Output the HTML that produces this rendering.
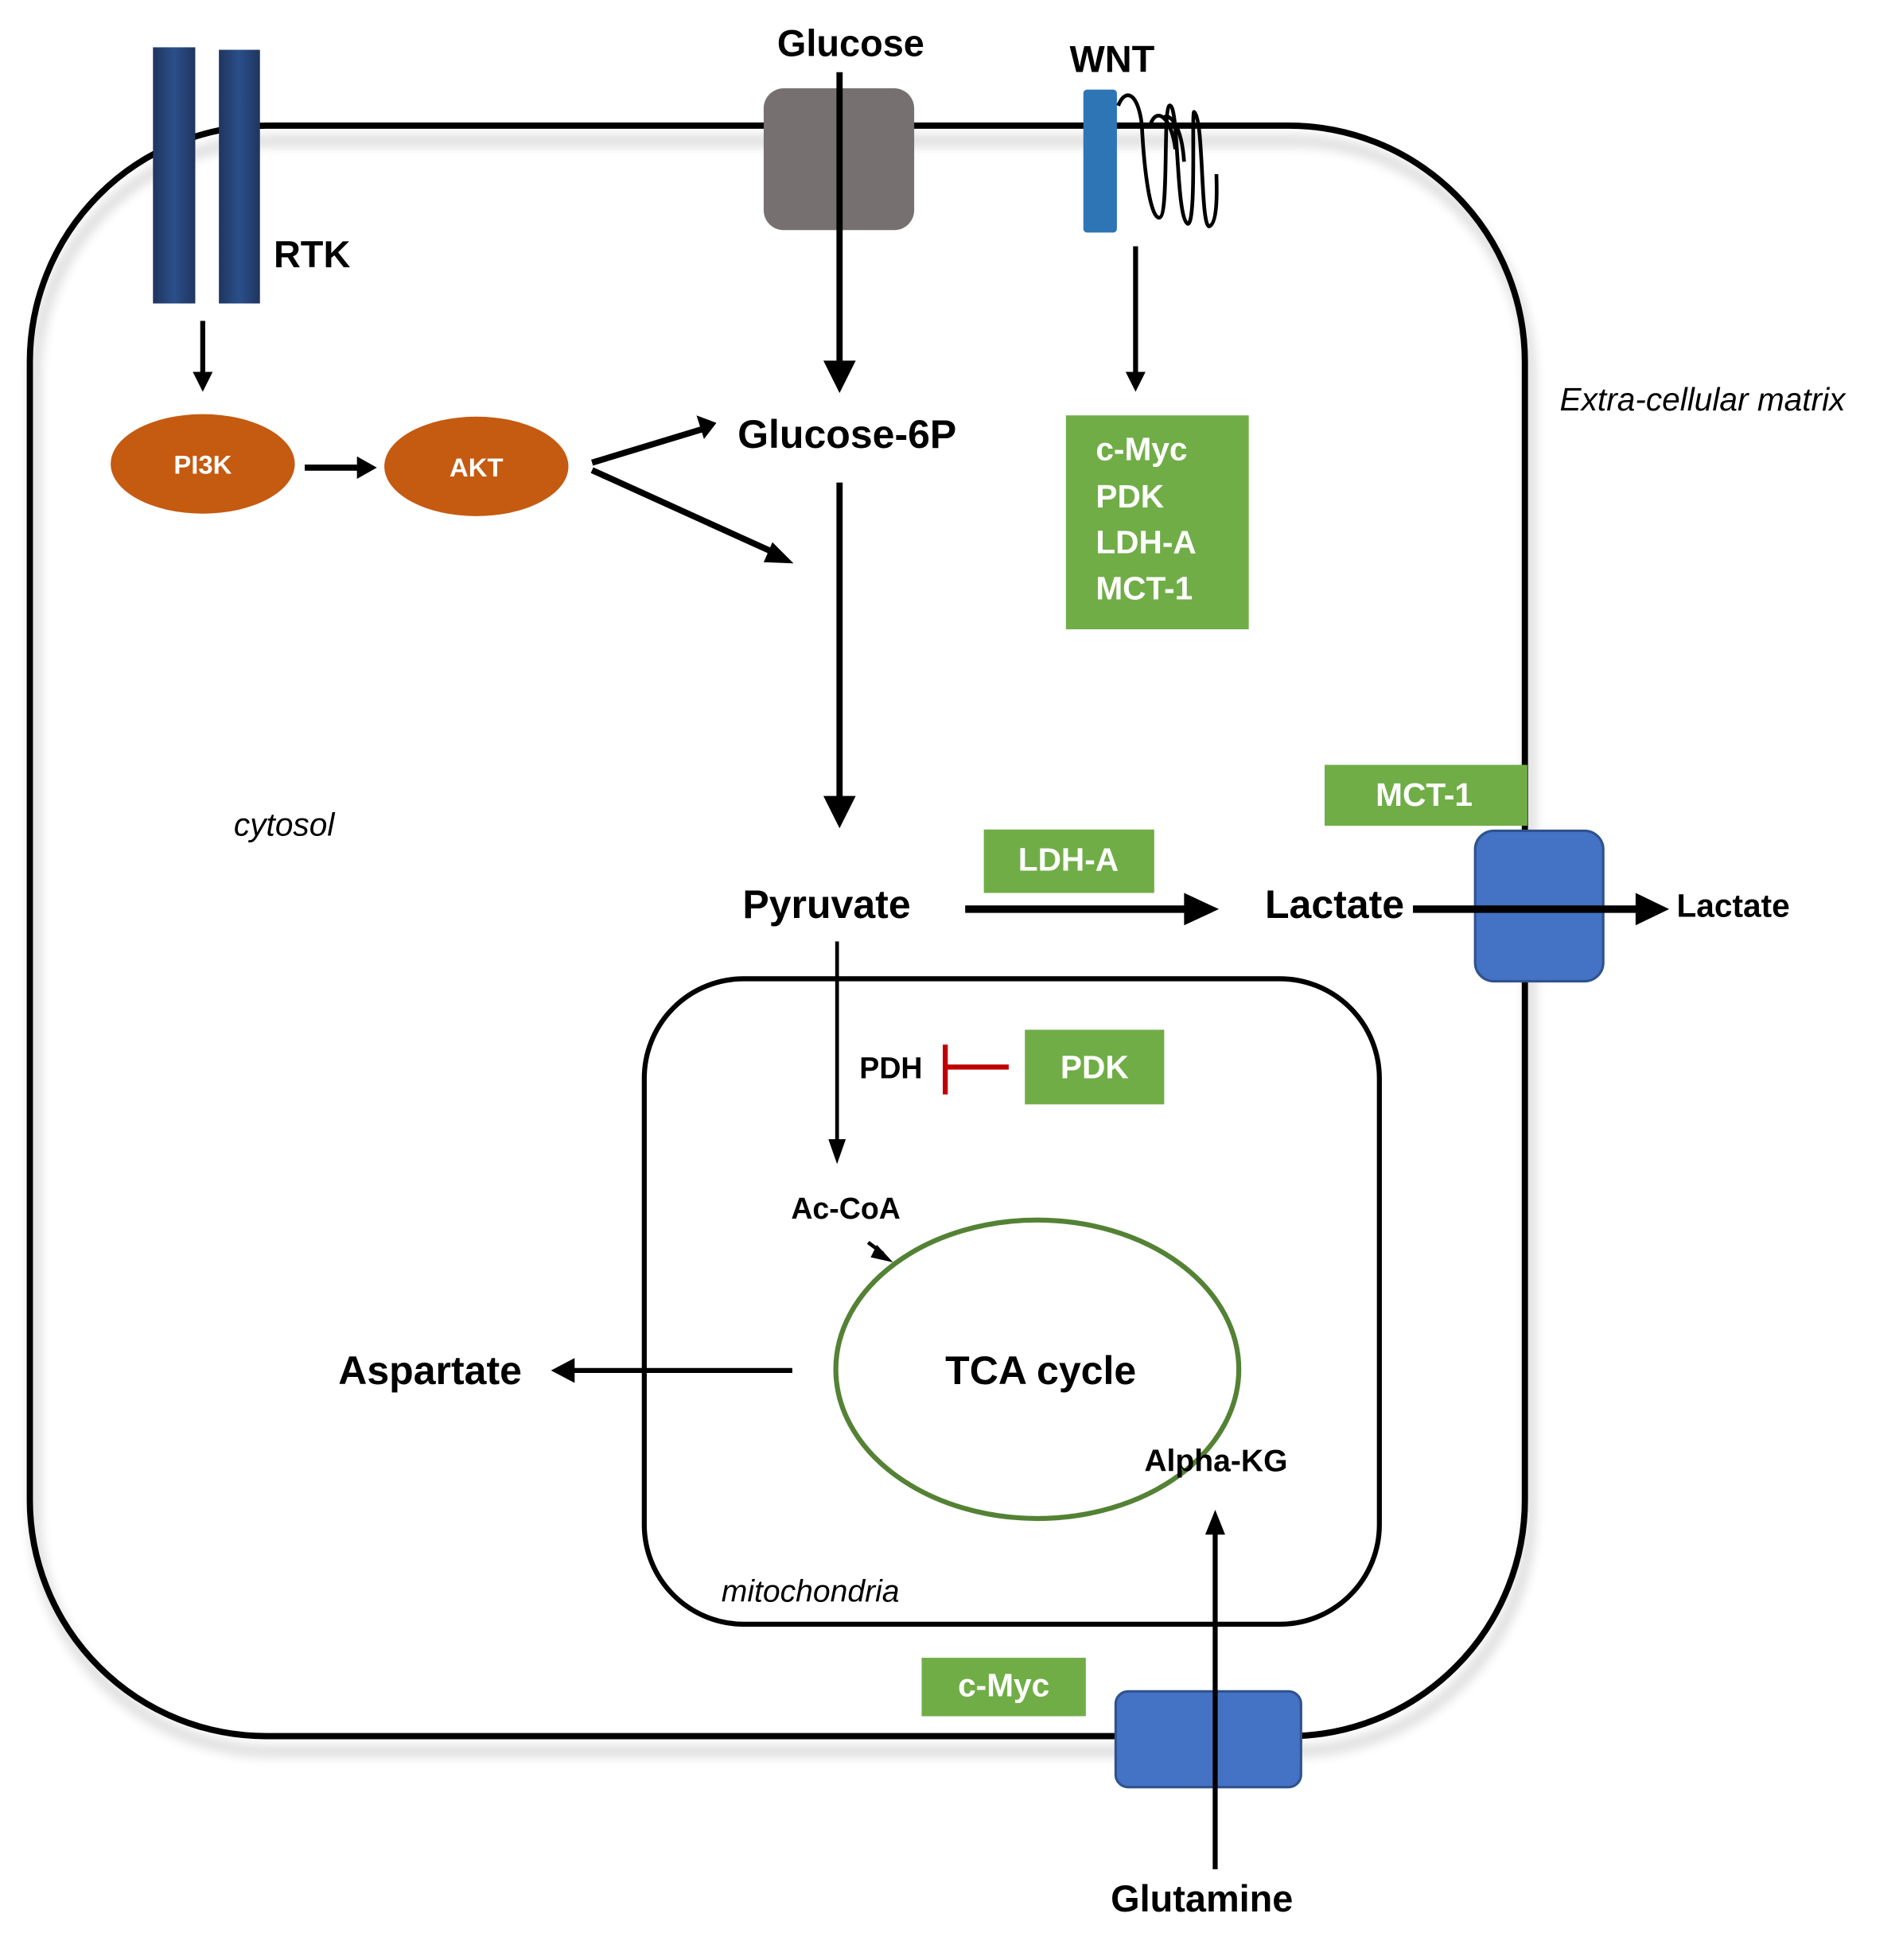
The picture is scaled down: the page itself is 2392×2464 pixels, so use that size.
<!DOCTYPE html>
<html><head><meta charset="utf-8"><style>
html,body{margin:0;padding:0;background:#fff}
svg{display:block}
text{font-family:"Liberation Sans",sans-serif}
.b{font-weight:bold}
.w{fill:#fff;font-weight:bold}
</style></head><body>
<svg width="2392" height="2464" viewBox="0 0 1530 1576" xmlns="http://www.w3.org/2000/svg">
<defs>
<filter id="sh" x="-5%" y="-5%" width="115%" height="115%">
<feGaussianBlur in="SourceAlpha" stdDeviation="5"/>
<feOffset dx="4" dy="12" result="o"/>
<feComponentTransfer><feFuncA type="linear" slope="0.25"/></feComponentTransfer>
<feMerge><feMergeNode/><feMergeNode in="SourceGraphic"/></feMerge>
</filter>
<linearGradient id="rg" x1="0" x2="1">
<stop offset="0" stop-color="#1f3560"/><stop offset="0.5" stop-color="#2b4f8a"/><stop offset="1" stop-color="#1f3560"/>
</linearGradient>
<marker id="ah" markerWidth="8" markerHeight="8" refX="7" refY="4" orient="auto" markerUnits="userSpaceOnUse" viewBox="0 0 8 8"><path d="M0,0 L8,4 L0,8z" fill="#000"/></marker>
</defs>
<rect x="24" y="101" width="1202" height="1295" rx="190" fill="none" stroke="#000" stroke-width="5" filter="url(#sh)"/>

<!-- RTK -->
<rect x="123" y="38" width="34" height="206" fill="url(#rg)"/>
<rect x="176" y="40" width="33" height="204" fill="url(#rg)"/>
<text x="220" y="215" class="b" font-size="30">RTK</text>

<!-- Glucose -->
<text x="684" y="45" class="b" font-size="30" text-anchor="middle">Glucose</text>
<rect x="614" y="71" width="121" height="114" rx="16" fill="#767170"/>
<line x1="675" y1="58" x2="675" y2="296" stroke="#000" stroke-width="5"/>
<path d="M662,290 L688,290 L675,316z"/>

<!-- WNT -->
<text x="860" y="58" class="b" font-size="30">WNT</text>
<rect x="871" y="72" width="27" height="115" rx="3" fill="#2e75b6"/>
<path d="M899,85 C905,70 915,75 918,100 C920,140 925,175 932,175 C940,175 935,90 940,85 C948,80 945,175 955,180 C962,180 958,90 960,90 C968,95 965,180 972,182 C980,180 978,145 978,140" fill="none" stroke="#000" stroke-width="3"/>
<path d="M925,100 C930,85 942,95 945,120 M935,95 C940,90 950,100 952,130" fill="none" stroke="#000" stroke-width="3"/>
<line x1="913" y1="198" x2="913" y2="302" stroke="#000" stroke-width="4"/>
<path d="M905,299 L921,299 L913,315z"/>

<rect x="857" y="334" width="147" height="172" fill="#70ad47"/>
<text x="881" y="370" class="w" font-size="26">c-Myc</text>
<text x="881" y="408" class="w" font-size="26">PDK</text>
<text x="881" y="445" class="w" font-size="26">LDH-A</text>
<text x="881" y="482" class="w" font-size="26">MCT-1</text>

<text x="1254" y="330" font-size="26" font-style="italic">Extra-cellular  matrix</text>

<!-- PI3K/AKT -->
<line x1="163" y1="258" x2="163" y2="302" stroke="#000" stroke-width="4"/>
<path d="M155,299 L171,299 L163,315z"/>
<ellipse cx="163" cy="373" rx="74" ry="40" fill="#c55a11"/>
<text x="163" y="381" class="w" font-size="21" text-anchor="middle" font-weight="normal">PI3K</text>
<ellipse cx="383" cy="375" rx="74" ry="40" fill="#c55a11"/>
<text x="383" y="383" class="w" font-size="21" text-anchor="middle">AKT</text>
<line x1="245" y1="376" x2="290" y2="376" stroke="#000" stroke-width="5"/>
<path d="M287,367 L303,376 L287,385z"/>
<line x1="476" y1="372" x2="565" y2="345" stroke="#000" stroke-width="5"/>
<path d="M560,334 L576,340 L566,353z"/>
<line x1="476" y1="378" x2="626" y2="446" stroke="#000" stroke-width="5"/>
<path d="M621,436 L638,453 L614,452z"/>

<text x="593" y="360" class="b" font-size="32">Glucose-6P</text>
<line x1="675" y1="388" x2="675" y2="645" stroke="#000" stroke-width="5"/>
<path d="M662,640 L688,640 L675,666z"/>

<text x="188" y="672" font-size="26" font-style="italic">cytosol</text>

<text x="597" y="738" class="b" font-size="32">Pyruvate</text>
<rect x="791" y="667" width="137" height="51" fill="#70ad47"/>
<text x="859" y="700" class="w" font-size="26" text-anchor="middle">LDH-A</text>
<rect x="1065" y="615" width="163" height="49" fill="#70ad47"/>
<text x="1145" y="648" class="w" font-size="26" text-anchor="middle">MCT-1</text>
<line x1="776" y1="731" x2="955" y2="731" stroke="#000" stroke-width="6"/>
<path d="M952,718 L980,731 L952,744z"/>
<text x="1017" y="738" class="b" font-size="32">Lactate</text>
<rect x="1186" y="668" width="103" height="121" rx="15" fill="#4472c4" stroke="#2f528f" stroke-width="2"/>
<line x1="1136" y1="731" x2="1318" y2="731" stroke="#000" stroke-width="6"/>
<path d="M1315,718 L1342,731 L1315,744z"/>
<text x="1348" y="737" class="b" font-size="26">Lactate</text>

<!-- Mito -->
<rect x="518" y="787" width="591" height="519" rx="80" fill="none" stroke="#000" stroke-width="4"/>
<line x1="673" y1="757" x2="673" y2="920" stroke="#000" stroke-width="3"/>
<path d="M666,916 L680,916 L673,936z"/>
<text x="691" y="867" class="b" font-size="24">PDH</text>
<line x1="760" y1="840" x2="760" y2="880" stroke="#c00000" stroke-width="4"/>
<line x1="760" y1="858" x2="811" y2="858" stroke="#c00000" stroke-width="4"/>
<rect x="824" y="828" width="112" height="60" fill="#70ad47"/>
<text x="880" y="867" class="w" font-size="26" text-anchor="middle">PDK</text>
<text x="636" y="980" class="b" font-size="24">Ac-CoA</text>
<line x1="698" y1="999" x2="710" y2="1008" stroke="#000" stroke-width="3"/>
<path d="M705,1001 L718,1015 L700,1011z"/>
<ellipse cx="834" cy="1101" rx="162" ry="120" fill="none" stroke="#548235" stroke-width="4"/>
<text x="760" y="1113" class="b" font-size="32">TCA cycle</text>
<text x="920" y="1183" class="b" font-size="25">Alpha-KG</text>
<text x="272" y="1113" class="b" font-size="32">Aspartate</text>
<line x1="637" y1="1102" x2="460" y2="1102" stroke="#000" stroke-width="4"/>
<path d="M462,1092 L443,1102 L462,1112z"/>
<text x="580" y="1288" font-size="25" font-style="italic">mitochondria</text>

<rect x="741" y="1333" width="132" height="47" fill="#70ad47"/>
<text x="807" y="1364" class="w" font-size="26" text-anchor="middle">c-Myc</text>
<rect x="897" y="1360" width="149" height="77" rx="10" fill="#4472c4" stroke="#2f528f" stroke-width="2"/>
<line x1="977" y1="1503" x2="977" y2="1232" stroke="#000" stroke-width="4"/>
<path d="M969,1234 L977,1214 L985,1234z"/>
<text x="893" y="1537" class="b" font-size="30">Glutamine</text>
</svg>
</body></html>
